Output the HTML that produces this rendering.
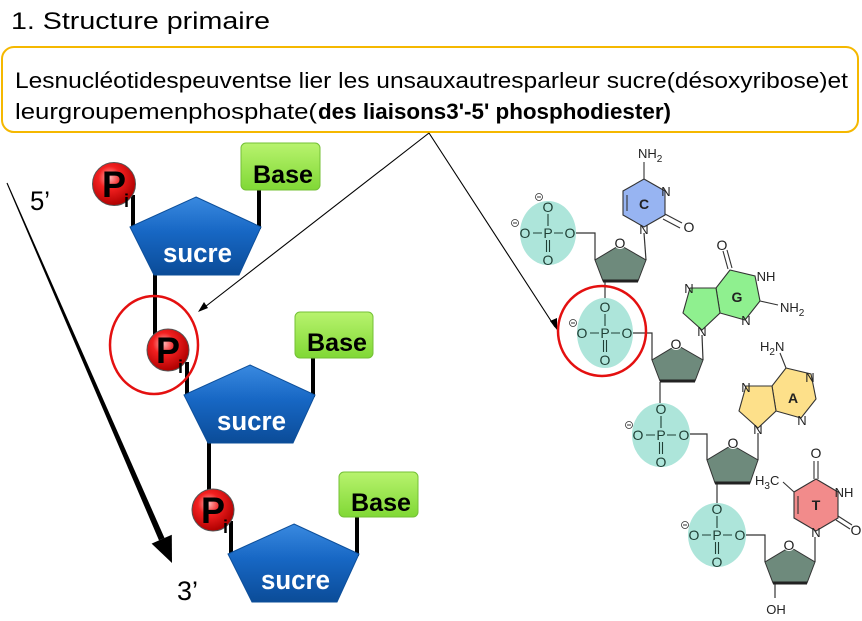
<!DOCTYPE html>
<html><head><meta charset="utf-8"><style>
html,body{margin:0;padding:0;background:#fff;}
svg{display:block;}
text{font-family:"Liberation Sans",sans-serif;}
</style></head><body>
<svg width="862" height="621" viewBox="0 0 862 621" xmlns="http://www.w3.org/2000/svg">
<defs>
<linearGradient id="gBlue" x1="0" y1="0" x2="0" y2="1">
<stop offset="0" stop-color="#3a8ae0"/><stop offset="0.45" stop-color="#1767c4"/><stop offset="1" stop-color="#0b4c98"/>
</linearGradient>
<linearGradient id="gGreen" x1="0" y1="0" x2="0" y2="1">
<stop offset="0" stop-color="#b8f36e"/><stop offset="1" stop-color="#80d835"/>
</linearGradient>
<radialGradient id="gRed" cx="0.4" cy="0.35" r="0.65">
<stop offset="0" stop-color="#ffb5b5"/><stop offset="0.4" stop-color="#f22020"/><stop offset="1" stop-color="#b00000"/>
</radialGradient>
</defs>

<!-- Title -->
<text x="11" y="29" font-size="24" textLength="259" lengthAdjust="spacingAndGlyphs" fill="#000">1. Structure primaire</text>

<!-- Box -->
<rect x="2" y="47" width="856" height="85" rx="12" ry="12" fill="#fff" stroke="#f5b800" stroke-width="2"/>
<text x="15" y="88" font-size="22" textLength="833" lengthAdjust="spacingAndGlyphs" fill="#000">Lesnucléotidespeuventse lier les unsauxautresparleur sucre(désoxyribose)et</text>
<text x="15" y="119" font-size="22" textLength="302" lengthAdjust="spacingAndGlyphs" fill="#000">leurgroupemenphosphate(</text>
<text x="318" y="119" font-size="22" font-weight="bold" textLength="353" lengthAdjust="spacingAndGlyphs" fill="#000">des liaisons3'-5' phosphodiester)</text>

<!-- pointer arrows -->
<g stroke="#000" stroke-width="1.1" fill="none">
<line x1="429" y1="133" x2="201" y2="310"/>
<line x1="429" y1="133" x2="555" y2="327"/>
</g>
<polygon points="198,312 204,302 208,308" fill="#000"/>
<polygon points="557,330 550,321 557,318" fill="#000"/>

<!-- big tapered arrow 5'->3' -->
<polygon points="6.5,183.2 7.5,182.8 164.5,538 159,540.4" fill="#000"/>
<polygon points="172,563 151.6,543.6 171.8,534.8" fill="#000"/>
<text x="30" y="210" font-size="27" textLength="20" lengthAdjust="spacingAndGlyphs" fill="#000">5’</text>
<text x="177" y="600" font-size="27" textLength="21" lengthAdjust="spacingAndGlyphs" fill="#000">3’</text>

<!-- sticks -->
<g stroke="#000" stroke-width="4">
<line x1="133" y1="195" x2="133" y2="229"/>
<line x1="259" y1="188" x2="259" y2="229"/>
<line x1="155" y1="272" x2="155" y2="336"/>
<line x1="187" y1="362" x2="187" y2="397"/>
<line x1="313" y1="356" x2="313" y2="397"/>
<line x1="209" y1="440" x2="209" y2="495"/>
<line x1="231" y1="521" x2="231" y2="556"/>
<line x1="357" y1="515" x2="357" y2="556"/>
</g>

<!-- pentagons -->
<polygon points="196,197 261,227 239,275 154,275 130,227" fill="url(#gBlue)" stroke="#0d4f9a" stroke-width="1"/>
<polygon points="250,365 315,395 293,443 208,443 184,395" fill="url(#gBlue)" stroke="#0d4f9a" stroke-width="1"/>
<polygon points="294,524 359,554 337,602 252,602 228,554" fill="url(#gBlue)" stroke="#0d4f9a" stroke-width="1"/>
<g font-size="27" font-weight="bold" fill="#fff">
<text x="163" y="262" textLength="69" lengthAdjust="spacingAndGlyphs">sucre</text>
<text x="217" y="430" textLength="69" lengthAdjust="spacingAndGlyphs">sucre</text>
<text x="261" y="589" textLength="69" lengthAdjust="spacingAndGlyphs">sucre</text>
</g>

<!-- bases -->
<rect x="241" y="143" width="79" height="47" rx="5" fill="url(#gGreen)" stroke="#74c036" stroke-width="1"/>
<rect x="295" y="312" width="78" height="46" rx="5" fill="url(#gGreen)" stroke="#74c036" stroke-width="1"/>
<rect x="339" y="472" width="79" height="45" rx="5" fill="url(#gGreen)" stroke="#74c036" stroke-width="1"/>
<g font-size="25" font-weight="bold" fill="#000">
<text x="253" y="183" textLength="60" lengthAdjust="spacingAndGlyphs">Base</text>
<text x="307" y="351" textLength="60" lengthAdjust="spacingAndGlyphs">Base</text>
<text x="351" y="511" textLength="60" lengthAdjust="spacingAndGlyphs">Base</text>
</g>

<!-- Pi -->
<circle cx="114" cy="184" r="21.5" fill="url(#gRed)" stroke="#555" stroke-width="1"/>
<circle cx="168" cy="350" r="21" fill="url(#gRed)" stroke="#555" stroke-width="1"/>
<circle cx="213" cy="510" r="21" fill="url(#gRed)" stroke="#555" stroke-width="1"/>
<g font-weight="bold" fill="#000">
<text x="102" y="197" font-size="37" textLength="24" lengthAdjust="spacingAndGlyphs">P</text>
<text x="124" y="207" font-size="18">i</text>
<text x="156" y="363" font-size="37" textLength="24" lengthAdjust="spacingAndGlyphs">P</text>
<text x="178" y="373" font-size="18">i</text>
<text x="201" y="523" font-size="37" textLength="24" lengthAdjust="spacingAndGlyphs">P</text>
<text x="223" y="533" font-size="18">i</text>
</g>

<!-- red circle left -->
<ellipse cx="154" cy="345" rx="44" ry="49" fill="none" stroke="#e41010" stroke-width="2.5"/>

<!-- ============ chemistry ============ -->
<g stroke="#333" stroke-width="1.2" fill="none">
<polyline points="576,233 595,233 595,260"/>
<line x1="605" y1="281" x2="605" y2="302"/>
<polyline points="633,333 652,333 652,360"/>
<line x1="660" y1="382" x2="660" y2="403"/>
<polyline points="689,434 707,434 707,460"/>
<line x1="717" y1="483" x2="717" y2="504"/>
<polyline points="746,535 765,535 765,562"/>
<line x1="775" y1="584" x2="775" y2="598"/>
<line x1="646" y1="260" x2="644" y2="233"/>
<line x1="703" y1="360" x2="702" y2="335"/>
<line x1="758" y1="460" x2="758" y2="433"/>
<line x1="815" y1="562" x2="815" y2="537"/>
</g>

<!-- phosphates -->
<g fill="#ade5da">
<ellipse cx="548" cy="233" rx="28" ry="32"/>
<ellipse cx="605" cy="333" rx="28" ry="35"/>
<ellipse cx="661" cy="435" rx="29" ry="32"/>
<ellipse cx="717" cy="535" rx="29" ry="32"/>
</g>
<g stroke="#1f3f35" stroke-width="1.1" fill="none">
<path d="M548 214 V226 M533 233 H542 M554 233 H563 M546.5 240 V252 M549.5 240 V252"/>
<path d="M605 314 V326 M590 333 H599 M611 333 H620 M603.5 340 V352 M606.5 340 V352"/>
<path d="M661 416 V428 M646 435 H655 M667 435 H676 M659.5 442 V454 M662.5 442 V454"/>
<path d="M717 516 V528 M702 535 H711 M723 535 H732 M715.5 542 V554 M718.5 542 V554"/>
</g>
<g font-size="14" fill="#1f3f35" text-anchor="middle">
<text x="548" y="212">O</text><text x="525" y="238">O</text><text x="548" y="238">P</text><text x="570" y="238">O</text><text x="548" y="265">O</text>
<text x="605" y="312">O</text><text x="582" y="338">O</text><text x="605" y="338">P</text><text x="627" y="338">O</text><text x="605" y="365">O</text>
<text x="661" y="414">O</text><text x="638" y="440">O</text><text x="661" y="440">P</text><text x="684" y="440">O</text><text x="661" y="467">O</text>
<text x="717" y="514">O</text><text x="694" y="540">O</text><text x="717" y="540">P</text><text x="740" y="540">O</text><text x="717" y="567">O</text>
</g>
<g stroke="#333" stroke-width="0.8" fill="#fff">
<circle cx="515" cy="223" r="3.5"/><circle cx="539" cy="197" r="3.5"/>
<circle cx="573" cy="323" r="3.5"/>
<circle cx="629" cy="425" r="3.5"/>
<circle cx="685" cy="525" r="3.5"/>
</g>
<g stroke="#333" stroke-width="0.9">
<path d="M513 223 H517 M537 197 H541 M571 323 H575 M627 425 H631 M683 525 H687"/>
</g>

<!-- sugars -->
<g fill="#6e8a7c" stroke="#333" stroke-width="1">
<polygon points="620,245 646,260 638,281 603,281 595,260"/>
<polygon points="677,345 703,360 695,381 660,381 652,360"/>
<polygon points="732,445 758,460 750,483 715,483 707,460"/>
<polygon points="790,547 815,562 807,583 773,583 765,562"/>
</g>
<g stroke="#222" stroke-width="3">
<line x1="603" y1="281" x2="638" y2="281"/>
<line x1="660" y1="381" x2="695" y2="381"/>
<line x1="715" y1="483" x2="750" y2="483"/>
<line x1="773" y1="583" x2="807" y2="583"/>
</g>
<g fill="#fff">
<circle cx="620" cy="243" r="6"/><circle cx="676" cy="344" r="6"/><circle cx="733" cy="443" r="6"/><circle cx="789" cy="545" r="6"/>
</g>
<g font-size="14" fill="#222" text-anchor="middle">
<text x="620" y="248">O</text><text x="676" y="349">O</text><text x="733" y="448">O</text><text x="789" y="550">O</text>
<text x="776" y="614" font-size="13">OH</text>
</g>

<!-- C ring -->
<polygon points="644,179 665,191 665,215 644,227 623,215 623,191" fill="#97b4f2" stroke="#333" stroke-width="1.1"/>
<g stroke="#333" stroke-width="1.1">
<line x1="627" y1="195" x2="627" y2="211"/>
<line x1="644" y1="179" x2="644" y2="162"/>
<line x1="665" y1="214" x2="682" y2="223"/>
<line x1="663" y1="219" x2="680" y2="228"/>
</g>
<g font-size="13" fill="#222">
<text x="666" y="196" font-size="13" text-anchor="middle">N</text>
<text x="644" y="234" font-size="13" text-anchor="middle">N</text>
<text x="689" y="232" font-size="14" text-anchor="middle">O</text>
<text x="638" y="158">NH<tspan font-size="10" dy="4">2</tspan></text>
<text x="644" y="209" font-weight="bold" font-size="14" text-anchor="middle">C</text>
</g>

<!-- G -->
<polygon points="730,270 755,276 760,301 745,320 720,313 716,288" fill="#8ff08f" stroke="#333" stroke-width="1.1"/>
<polygon points="716,288 690,288 683,313 702,330 720,313" fill="#8ff08f" stroke="#333" stroke-width="1.1"/>
<g stroke="#333" stroke-width="1.1">
<line x1="728" y1="269" x2="723" y2="251"/><line x1="732" y1="268" x2="727" y2="250"/>
<line x1="760" y1="301" x2="778" y2="305"/>
</g>
<g font-size="13" fill="#222" text-anchor="middle">
<text x="722" y="250" font-size="14">O</text>
<text x="766" y="281">NH</text>
<text x="746" y="325">N</text>
<text x="689" y="293">N</text>
<text x="702" y="336">N</text>
<text x="780" y="312" text-anchor="start">NH<tspan font-size="10" dy="4">2</tspan></text>
<text x="737" y="302" font-weight="bold" font-size="14">G</text>
</g>

<!-- A -->
<polygon points="786,368 811,374 816,399 801,418 776,411 772,386" fill="#fde08a" stroke="#333" stroke-width="1.1"/>
<polygon points="772,386 746,386 739,411 758,428 776,411" fill="#fde08a" stroke="#333" stroke-width="1.1"/>
<g stroke="#333" stroke-width="1.1">
<line x1="786" y1="368" x2="780" y2="353"/>
</g>
<g font-size="13" fill="#222" text-anchor="middle">
<text x="760" y="351" text-anchor="start">H<tspan font-size="10" dy="4">2</tspan><tspan dy="-4">N</tspan></text>
<text x="810" y="382">N</text>
<text x="802" y="425">N</text>
<text x="746" y="392">N</text>
<text x="758" y="434">N</text>
<text x="793" y="403" font-weight="bold" font-size="14">A</text>
</g>

<!-- T -->
<polygon points="816,479 838,492 838,518 816,531 794,518 794,492" fill="#f28b8b" stroke="#333" stroke-width="1.1"/>
<g stroke="#333" stroke-width="1.1">
<line x1="814" y1="479" x2="814" y2="461"/><line x1="818" y1="479" x2="818" y2="461"/>
<line x1="838" y1="516" x2="852" y2="525"/><line x1="836" y1="520" x2="850" y2="529"/>
<line x1="783" y1="482" x2="794" y2="492"/>
<line x1="798" y1="496" x2="798" y2="514"/>
</g>
<g font-size="13" fill="#222" text-anchor="middle">
<text x="816" y="458" font-size="14">O</text>
<text x="844" y="497">NH</text>
<text x="816" y="537">N</text>
<text x="856" y="535" font-size="14">O</text>
<text x="755" y="485" text-anchor="start">H<tspan font-size="10" dy="4">3</tspan><tspan dy="-4">C</tspan></text>
<text x="816" y="510" font-weight="bold" font-size="14">T</text>
</g>

<!-- red circle right -->
<ellipse cx="602" cy="331" rx="44" ry="45" fill="none" stroke="#e41010" stroke-width="2.5"/>
</svg>
</body></html>
